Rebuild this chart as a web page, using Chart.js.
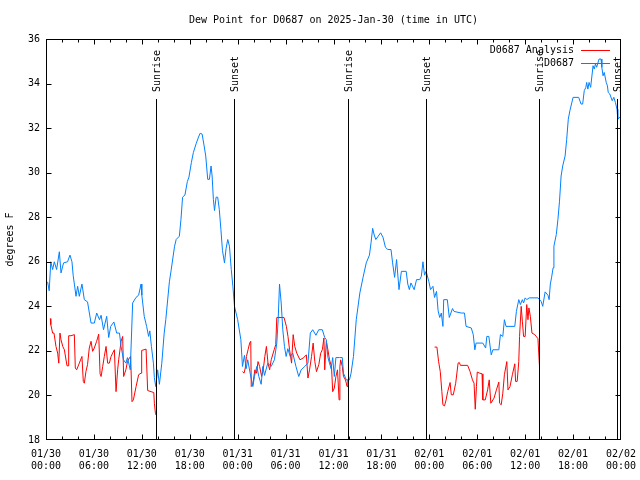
<!DOCTYPE html>
<html>
<head>
<meta charset="utf-8">
<title>Dew Point for D0687</title>
<script src="https://cdn.jsdelivr.net/npm/chart.js@4.4.1/dist/chart.umd.min.js"></script>
<style>
  html, body { margin: 0; padding: 0; background: #fff; }
  #wrap { width: 640px; height: 480px; }
</style>
</head>
<body>
<div id="wrap"><canvas id="dew" width="640" height="480"></canvas></div>
<script>
// ── Data (x = hours since 2025-01-30 00:00 UTC, y = dew point °F) ──────────
const xTickLabels = [
  ['01/30', '00:00'], ['01/30', '06:00'], ['01/30', '12:00'], ['01/30', '18:00'],
  ['01/31', '00:00'], ['01/31', '06:00'], ['01/31', '12:00'], ['01/31', '18:00'],
  ['02/01', '00:00'], ['02/01', '06:00'], ['02/01', '12:00'], ['02/01', '18:00'],
  ['02/02', '00:00'],
];

const sunriseHours = [13.73, 37.79, 61.73];
const sunsetHours  = [23.51, 47.57, 71.5];

// analysis series (null = missing data)
const analysisHours = [
  0.54, 0.6, 0.83, 1.0, 1.25, 1.46, 1.6, 1.75, 1.88, 2.1, 2.3, 2.63, 2.83, 2.84, 3.13,
  3.55, 3.67, 3.84, 4.17, 4.5, 4.67, 4.8, 5.0, 5.2, 5.42, 5.64, 5.84, 6.05, 6.34, 6.6,
  6.77, 6.9, 7.1, 7.3, 7.52, 7.72, 7.93, 8.15, 8.35, 8.56, 8.77, 8.97, 9.1, 9.4, 9.6,
  9.72, 10.0, 10.2, 10.44, 10.6, 10.77, 10.94, 11.28, 11.6, 11.9, 11.98, 12.53, 12.73,
  13.16, 13.5, 13.57, 13.7, 13.78,
  19,
  24.6, 24.8, 24.95, 25.1, 25.3, 25.5, 25.64, 25.7, 25.9, 26.15, 26.35, 26.55, 26.75,
  27.0, 27.2, 27.4, 27.6, 27.8, 28.0, 28.2, 28.57, 28.77, 28.9, 29.8, 30.1, 30.3, 30.5,
  30.75, 30.95, 31.15, 31.4, 31.8, 32.2, 32.6, 32.8, 33.0, 33.25, 33.45, 33.66, 33.87,
  34.16, 34.4, 34.6, 34.8, 34.9, 35.1, 35.3, 35.5, 35.75, 35.9, 36.1, 36.3, 36.5, 36.7,
  36.8, 36.9, 37.1, 37.25, 37.5, 37.7, 37.8,
  43,
  48.66, 48.95, 49.16, 49.37, 49.57, 49.7, 49.9, 50.1, 50.3, 50.6, 50.75, 51.0, 51.3,
  51.6, 51.75, 51.9, 52.8, 53.1, 53.4, 53.6, 53.75, 53.9, 54.0, 54.3, 54.6, 54.7, 55.0,
  55.3, 55.5, 55.7, 56.1, 56.4, 56.7, 56.8, 57.0, 57.2, 57.4, 57.7, 57.85, 58.1, 58.4,
  58.7, 58.8, 59.0, 59.2, 59.3, 59.5, 59.65, 59.8, 60.0, 60.2, 60.35, 60.47, 60.65,
  60.85, 61.2, 61.6, 61.7, 61.8,
];
const analysisDew = [
  23.45, 23.18, 22.8, 22.8, 22.2, 21.9, 21.45, 22.8, 22.5, 22.2, 22.05, 21.33, 21.33, 22.68, 22.68,
  22.73, 21.23, 21.15, 21.45, 21.75, 20.63, 20.55, 21.07, 21.38, 22.13, 22.43, 21.98, 22.13, 22.43, 22.75,
  20.97, 20.85, 21.3, 21.75, 22.2, 21.45, 21.45, 21.75, 21.9, 22.05, 20.17, 21.15, 21.6, 22.43, 22.65,
  20.85, 21.15, 21.52, 21.68, 21.75, 19.72, 19.8, 20.4, 20.93, 21.0, 22.02, 22.08, 20.22,
  20.17, 20.13, 19.65, 19.2, 19.12,
  null,
  21.07, 21.0, 21.23, 21.75, 22.05, 22.35, 22.43, 20.4, 20.48, 21.15, 21.0, 21.52, 21.3,
  20.85, 21.15, 21.75, 22.2, 21.45, 21.15, 21.6, 22.05, 22.28, 23.5, 23.5, 23.1, 22.65, 22.05,
  21.45, 22.73, 22.2, 21.9, 21.6, 21.68, 21.82, 20.78, 21.15, 21.75, 22.35, 21.52, 21.07,
  21.38, 21.9, 22.05, 22.58, 21.15, 22.43, 22.05, 21.6, 21.3, 20.17, 20.33, 20.85, 21.15, 19.8,
  21.3, 21.6, 21.3, 20.85, 20.7, 20.4, 20.7,
  null,
  22.17, 22.17, 21.52, 21.07, 20.17, 19.58, 19.53, 19.8, 20.17, 20.58, 20.03, 20.03, 20.55,
  21.45, 21.48, 21.35, 21.35, 21.07, 20.7, 20.55, 19.38, 20.4, 21.05, 21.0, 20.97, 19.8, 19.8,
  20.25, 20.7, 19.65, 19.88, 20.25, 20.6, 19.65, 19.58, 20.1, 20.93, 21.52, 20.25, 20.4, 20.93,
  21.42, 20.63, 20.63, 21.52, 22.65, 24.0, 23.33, 22.65, 22.65, 24.08, 23.4, 23.93, 23.55,
  22.8, 22.73, 22.55, 21.9, 21.27,
];

// station observations
const obsHours = [
  0.2, 0.4, 0.6, 0.83, 1.04, 1.33, 1.67, 1.88, 2.2, 2.7, 3.0, 3.25, 3.4, 3.55, 3.76, 3.96,
  4.17, 4.5, 4.8, 5.2, 5.64, 6.05, 6.35, 6.7, 6.9, 7.2, 7.6, 7.85, 8.1, 8.5, 8.85, 9.2,
  9.4, 9.7, 10.0, 10.2, 10.55, 10.85, 11.27, 11.6, 11.9, 12.0, 12.3, 12.6, 12.85, 13.0,
  13.2, 13.45, 13.57, 13.74, 13.98, 14.2, 14.5, 14.8, 15.0, 15.45, 15.66, 16.1, 16.3,
  16.7, 16.9, 17.1, 17.4, 17.7, 17.9, 18.2, 18.45, 18.8, 19.1, 19.3, 19.55, 19.8, 20.0,
  20.25, 20.46, 20.67, 20.8, 20.96, 21.1, 21.3, 21.5, 21.7, 21.9, 22.1, 22.35, 22.55,
  22.76, 22.97, 23.2, 23.4, 23.6, 24.0, 24.4, 24.6, 24.85, 25.06, 25.26, 25.56, 25.9,
  26.1, 26.4, 26.65, 26.94, 27.15, 27.36, 27.77, 28.2, 28.6, 28.9, 29.07, 29.24, 29.45,
  29.65, 29.86, 30.07, 30.28, 30.58, 30.9, 31.3, 31.65, 31.95, 32.4, 32.8, 33.1, 33.4,
  33.8, 34.15, 34.6, 34.9, 35.1, 35.3, 35.7, 35.9, 36.1, 36.3, 36.75, 37.1, 37.25, 37.6,
  38.0, 38.2, 38.5, 38.85, 39.3, 39.7, 40.1, 40.5, 40.7, 40.9, 41.1, 41.3, 41.6, 41.9,
  42.2, 42.5, 42.8, 43.2, 43.4, 43.65, 43.9, 44.2, 44.5, 45.1, 45.3, 45.5, 45.7, 46.1,
  46.4, 46.8, 47.0, 47.2, 47.4, 47.6, 47.95, 48.15, 48.45, 48.65, 48.9, 49.1, 49.3, 49.5,
  49.7, 49.8, 50.25, 50.5, 50.9, 51.1, 52.0, 52.4, 52.6, 53.25, 53.5, 53.7, 53.85, 54.7,
  55.05, 55.2, 55.45, 55.75, 55.96, 56.7, 56.9, 57.2, 57.4, 57.6, 58.7, 58.9, 59.2, 59.4,
  59.65, 59.8, 60.0, 60.2, 60.5, 61.6, 62.0, 62.2, 62.5, 62.85, 63.0, 63.15, 63.3, 63.5,
  63.6, 63.9, 64.1, 64.3, 64.5, 64.7, 65.0, 65.2, 65.4, 65.6, 66.0, 66.7, 67.0, 67.2,
  67.4, 67.6, 67.7, 67.85, 68.0, 68.2, 68.5, 68.65, 68.8, 68.95, 69.25, 69.5, 69.6,
  69.75, 69.9, 70.15, 70.3, 70.4, 70.6, 70.9, 71.1, 71.3, 71.5, 71.6, 71.9,
];
const obsDew = [
  25.1, 24.7, 26.0, 25.65, 26.0, 25.65, 26.45, 25.5, 25.95, 26.0, 26.3, 26.0, 25.4, 25.0, 24.45, 24.9,
  24.45, 25.0, 24.3, 24.2, 23.25, 23.25, 23.7, 23.4, 23.6, 22.95, 23.55, 22.6, 23.1, 23.3, 22.8, 22.8,
  22.2, 21.6, 21.45, 21.7, 21.15, 24.15, 24.4, 24.5, 25.0, 24.5, 23.55, 23.1, 22.65, 22.9,
  22.2, 21.45, 20.8, 20.4, 21.15, 20.5, 21.45, 22.8, 23.4, 25.1, 25.6, 26.7, 27.0,
  27.15, 27.9, 28.9, 29.0, 29.6, 29.8, 30.45, 30.9, 31.3, 31.6, 31.77, 31.73, 31.2, 30.75,
  29.7, 29.7, 30.3, 29.85, 28.8, 28.3, 28.9, 28.9, 28.35, 27.45, 26.5, 25.95, 26.6,
  27.0, 26.7, 25.65, 24.9, 24.0, 23.4, 22.5, 21.3, 21.8, 21.2, 21.6, 21.0, 20.4,
  20.85, 21.3, 20.85, 20.5, 21.3, 20.9, 21.45, 21.3, 21.6, 22.35, 23.4, 25.0, 24.15,
  22.95, 22.2, 21.75, 22.1, 21.75, 21.9, 21.3, 20.85, 21.15, 21.3, 21.45, 22.8, 22.95,
  22.7, 22.95, 22.95, 22.6, 22.5, 21.7, 21.2, 21.7, 20.85, 21.7, 21.7, 21.7, 21.0, 20.7,
  20.7, 21.0, 21.75, 23.4, 24.6, 25.3, 25.95, 26.3, 26.85, 27.5, 27.2, 27.0, 27.15, 27.3,
  27.1, 26.65, 26.55, 26.55, 25.95, 25.3, 26.1, 24.75, 25.57, 25.57, 25.0, 24.75, 25.05, 24.75,
  25.2, 25.2, 25.35, 26.0, 25.4, 25.57, 25.1, 24.75, 24.9, 24.4, 24.67, 23.8, 23.5, 23.7,
  23.1, 24.3, 24.3, 23.5, 23.9, 23.77, 23.7, 23.7, 23.1, 23.03, 22.73, 22.05, 22.35, 22.35,
  22.13, 22.65, 22.65, 21.82, 22.05, 22.05, 22.73, 22.65, 23.4, 23.1, 23.1, 23.77, 24.3, 24.08,
  24.3, 24.15, 24.38, 24.3, 24.38, 24.38, 24.22, 24.0, 24.65, 24.5, 24.3, 25.0, 25.28, 25.73,
  26.7, 27.23, 27.9, 28.72, 29.85, 30.3, 30.75, 31.5, 32.4, 32.78, 33.38, 33.38, 33.08, 33.08,
  33.68, 33.83, 34.05, 33.75, 34.05, 33.83, 34.8, 34.65, 34.88, 34.73, 35.1, 35.1, 34.73,
  34.35, 34.5, 34.05, 33.9, 33.6, 33.53, 33.23, 33.38, 33.15, 32.85, 32.4, 32.5,
];

// ── Styling ────────────────────────────────────────────────────────────────
const FONT = '10px "DejaVu Sans Mono", monospace';
const RED = '#ff0000';
const BLUE = '#0080ff';

Chart.defaults.font.family = '"DejaVu Sans Mono", monospace';
Chart.defaults.font.size = 10;
Chart.defaults.color = '#000';

const toPoints = (xs, ys) => xs.map((x, i) => ({ x: x, y: ys[i] }));

// frame, inward ticks, sun markers, legend and title (gnuplot look)
const gnuplotFrame = {
  id: 'gnuplotFrame',
  afterDatasetsDraw(chart) {
    const { ctx, chartArea: a, scales } = chart;
    const xs = scales.x, ys = scales.y;
    const L = a.left + 0.5, R = a.right - 0.5, T = a.top + 0.5, B = a.bottom - 0.5;
    ctx.save();
    ctx.strokeStyle = '#000';
    ctx.lineWidth = 1;

    // sunrise / sunset lines
    const drawSun = (hours, label) => {
      hours.forEach(h => {
        const px = Math.round(xs.getPixelForValue(h)) + 0.5;
        ctx.beginPath();
        ctx.moveTo(px, a.top + 60);
        ctx.lineTo(px, B);
        ctx.stroke();
        ctx.save();
        ctx.translate(px + 1, a.top + 53);
        ctx.rotate(-Math.PI / 2);
        ctx.font = FONT;
        ctx.fillStyle = '#000';
        ctx.textAlign = 'left';
        ctx.textBaseline = 'middle';
        ctx.fillText(label, 0, 0);
        ctx.restore();
      });
    };
    drawSun(sunriseHours, 'Sunrise');
    drawSun(sunsetHours, 'Sunset');

    // border
    ctx.strokeRect(L, T, R - L, B - T);

    // x ticks: major 6 h, minor 2 h, mirrored on top
    ctx.beginPath();
    for (let h = 0; h <= 72; h += 2) {
      const px = Math.min(Math.round(xs.getPixelForValue(h)) + 0.5, R);
      const len = h % 6 === 0 ? 5 : 3;
      ctx.moveTo(px, B); ctx.lineTo(px, B - len);
      ctx.moveTo(px, T); ctx.lineTo(px, T + len);
    }
    // y ticks, mirrored on right
    for (let v = 18; v <= 36; v += 2) {
      const py = Math.min(Math.round(ys.getPixelForValue(v)) + 0.5, B);
      ctx.moveTo(L, py); ctx.lineTo(L + 5, py);
      ctx.moveTo(R, py); ctx.lineTo(R - 5, py);
    }
    ctx.stroke();

    // legend (top right, inside the plot)
    ctx.font = FONT;
    ctx.textBaseline = 'middle';
    ctx.textAlign = 'right';
    chart.data.datasets.forEach((ds, i) => {
      const y = a.top + 11 + i * 13 + 0.5;
      ctx.fillStyle = '#000';
      ctx.fillText(ds.label, 574, y);
      ctx.strokeStyle = ds.borderColor;
      ctx.beginPath();
      ctx.moveTo(581, y);
      ctx.lineTo(610, y);
      ctx.stroke();
    });

    // title, centred on the plot area
    ctx.fillStyle = '#000';
    ctx.textAlign = 'center';
    ctx.fillText('Dew Point for D0687 on 2025-Jan-30 (time in UTC)', (a.left + a.right) / 2, 20);
    ctx.restore();
  },
};

new Chart(document.getElementById('dew'), {
  type: 'line',
  data: {
    datasets: [
      {
        label: 'D0687 Analysis',
        data: toPoints(analysisHours, analysisDew),
        borderColor: RED,
        borderWidth: 1,
        order: 1,
      },
      {
        label: 'D0687',
        data: toPoints(obsHours, obsDew),
        borderColor: BLUE,
        borderWidth: 1,
        order: 0,
      },
    ],
  },
  options: {
    responsive: false,
    animation: false,
    devicePixelRatio: 1,
    spanGaps: false,
    elements: {
      point: { radius: 0 },
      line: { tension: 0 },
    },
    layout: { padding: { top: 39, right: 19, left: 0, bottom: 0 } },
    plugins: {
      legend: { display: false },
      title: { display: false },
      tooltip: { enabled: false },
    },
    scales: {
      x: {
        type: 'linear',
        min: 0,
        max: 72,
        afterFit: s => {
          s.height = 40;
          s.paddingLeft = 0;
          s.paddingRight = 0;
        },
        grid: { display: false, drawTicks: false },
        border: { display: false },
        ticks: {
          stepSize: 6,
          autoSkip: false,
          maxRotation: 0,
          padding: 8,
          callback: v => xTickLabels[Math.round(v / 6)],
        },
      },
      y: {
        min: 18,
        max: 36,
        afterFit: s => {
          s.width = 46;
          s.paddingTop = 0;
          s.paddingBottom = 0;
        },
        grid: { display: false, drawTicks: false },
        border: { display: false },
        ticks: { stepSize: 2, padding: 6 },
        title: { display: true, text: 'degrees F', padding: { top: 4, bottom: 0 } },
      },
    },
  },
  plugins: [gnuplotFrame],
});
</script>
</body>
</html>
